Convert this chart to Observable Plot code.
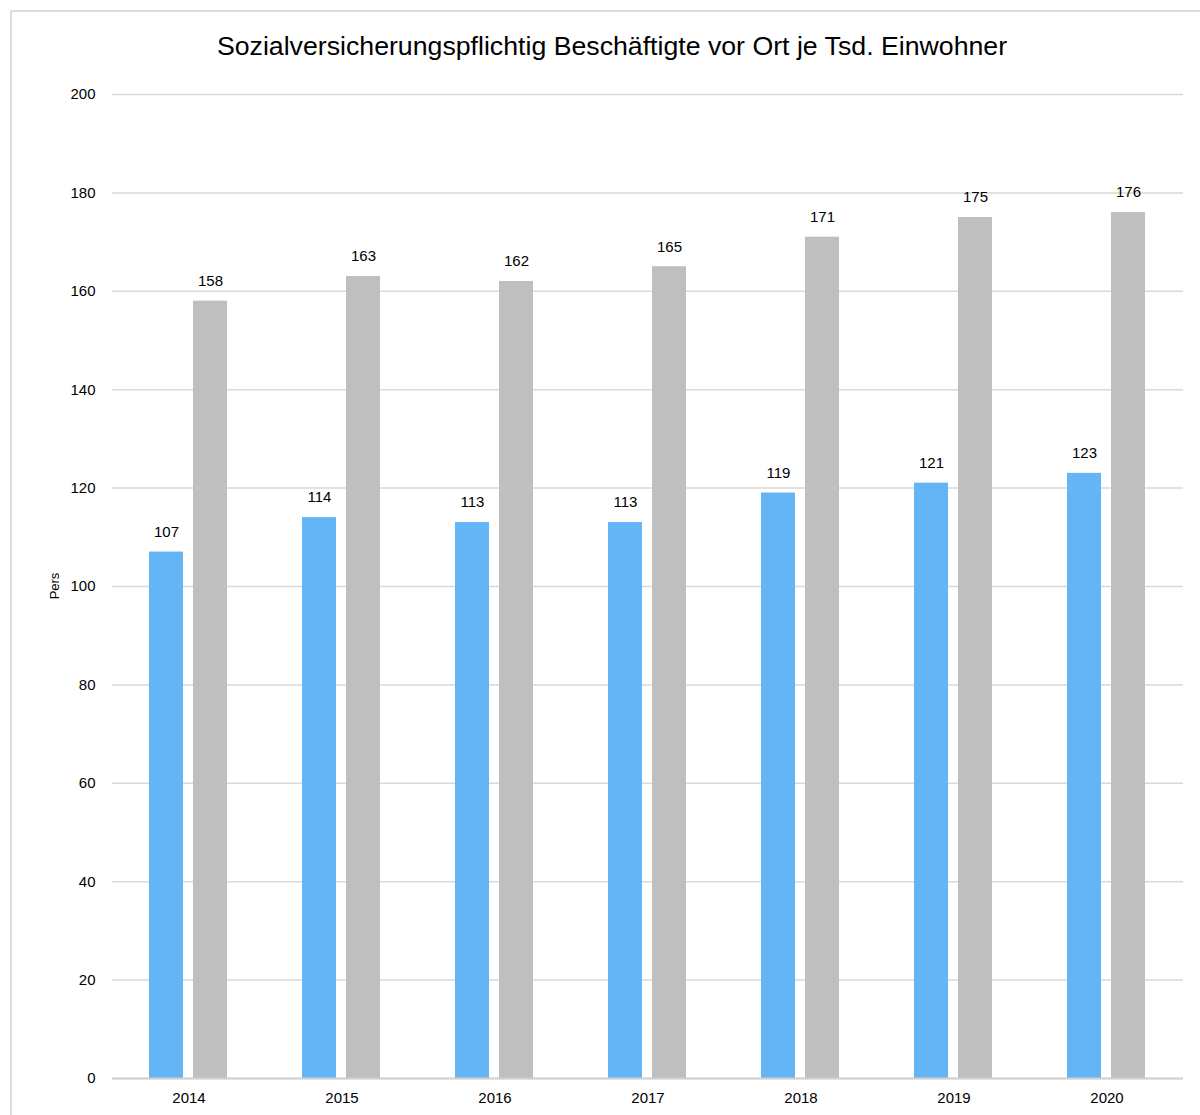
<!DOCTYPE html>
<html>
<head>
<meta charset="utf-8">
<script src="https://cdn.jsdelivr.net/npm/d3@7"></script>
<script src="https://cdn.jsdelivr.net/npm/@observablehq/plot@0.6"></script>
<style>
  html, body { margin: 0; padding: 0; background: #fff; overflow: hidden; }
  #wrap { position: relative; width: 1200px; height: 1115px; overflow: hidden; font-family: "Liberation Sans", Arial, sans-serif; }
  #frame { position: absolute; left: 10px; top: 10px; width: 1220px; height: 1130px; border: 2px solid #dedede; box-sizing: border-box; }
  #title { position: absolute; left: 0; top: 30px; width: 1224px; text-align: center; font-size: 26.7px; color: #000; line-height: 32px; }
  #ylabel { position: absolute; left: 54px; top: 586px; transform: translate(-50%, -50%) rotate(-90deg); font-size: 13px; color: #000; white-space: nowrap; }
  #chart { position: absolute; left: 0; top: 0; }
</style>
</head>
<body>
<div id="wrap">
  <div id="frame"></div>
  <div id="title">Sozialversicherungspflichtig Beschäftigte vor Ort je Tsd. Einwohner</div>
  <div id="chart"></div>
  <div id="ylabel">Pers</div>
</div>
<script>
const years = ["2014", "2015", "2016", "2017", "2018", "2019", "2020"];
const seriesNames = ["Ort", "Vergleich"];
const ortValues = [107, 114, 113, 113, 119, 121, 123];
const vergleichValues = [158, 163, 162, 165, 171, 175, 176];
const yTicks = [0, 20, 40, 60, 80, 100, 120, 140, 160, 180, 200];
const colors = ["#64b5f6", "#bfbfbf"];

const data = [];
years.forEach((yr, i) => {
  data.push({year: yr, series: seriesNames[0], value: ortValues[i]});
  data.push({year: yr, series: seriesNames[1], value: vergleichValues[i]});
});

const chart = Plot.plot({
  width: 1200,
  height: 1115,
  marginLeft: 110,
  marginRight: 16,
  marginTop: 94,
  marginBottom: 37,
  style: {fontFamily: "'Liberation Sans', Arial, sans-serif", fontSize: "15px", color: "#000", background: "transparent"},
  fx: {domain: years, padding: 0, label: null, tickSize: 0, tickPadding: 14, axis: "bottom"},
  x: {domain: seriesNames, paddingInner: 0.22, paddingOuter: 0.84, axis: null},
  y: {domain: [0, 200], ticks: yTicks, label: null, tickSize: 0, tickPadding: 17},
  color: {domain: seriesNames, range: colors},
  marks: [
    Plot.gridY(yTicks, {stroke: "#d9d9d9", strokeOpacity: 1, strokeWidth: 1.5}),
    Plot.barY(data, {fx: "year", x: "series", y: "value", fill: "series"}),
    Plot.ruleY([0], {stroke: "#d0d0d0", strokeWidth: 2}),
    Plot.text(data, {fx: "year", x: "series", y: "value", text: d => String(d.value), dy: -20, fontSize: 15, fill: "#000"})
  ]
});
document.getElementById("chart").appendChild(chart);
</script>
</body>
</html>
